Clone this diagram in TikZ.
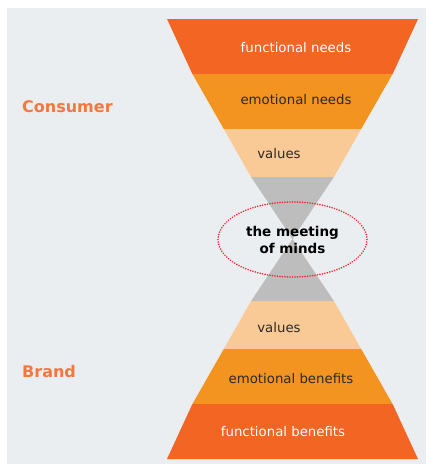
\documentclass[tikz,border=0pt]{standalone}
\usepackage{fontspec}
\setmainfont{DejaVu Sans}
\begin{document}
\begin{tikzpicture}[x=1pt,y=-1pt,
  bandtext/.style={font=\fontsize{13.3}{16}\selectfont, inner sep=0pt},
  sidelabel/.style={font=\bfseries\fontsize{16}{19}\selectfont, text=labelorange, anchor=west, inner sep=0pt}]
\definecolor{panel}{HTML}{EBEEF0}
\definecolor{darkorange}{HTML}{F26522}
\definecolor{midorange}{HTML}{F39420}
\definecolor{peach}{HTML}{F9C996}
\definecolor{coregray}{HTML}{BDBDBD}
\definecolor{labelorange}{HTML}{F47740}
\definecolor{textdark}{HTML}{2A2A2A}
\definecolor{dotred}{HTML}{EE2A32}
\useasboundingbox (0,0) rectangle (426,464);
\fill[white] (0,0) rectangle (426,464);
\fill[panel] (7,8) rectangle (426,464);
% funnel (top) and pyramid (bottom), apex at (292.5,239)
\coordinate (apex) at (292.5,239);
% top funnel bands
\fill[darkorange] (167,19) -- (418,19) -- (392.6,74) -- (192.4,74) -- cycle;
\fill[midorange] (192.4,74) -- (392.6,74) -- (361.2,129) -- (223.8,129) -- cycle;
\fill[peach] (223.8,129) -- (361.2,129) -- (333.9,177) -- (251.1,177) -- cycle;
\fill[coregray] (251.1,177) -- (333.9,177) -- (apex) -- cycle;
% bottom pyramid bands
\fill[coregray] (apex) -- (333.9,301) -- (251.1,301) -- cycle;
\fill[peach] (251.1,301) -- (333.9,301) -- (361.2,349) -- (223.8,349) -- cycle;
\fill[midorange] (223.8,349) -- (361.2,349) -- (392.6,404) -- (192.4,404) -- cycle;
\fill[darkorange] (192.4,404) -- (392.6,404) -- (418,459) -- (167,459) -- cycle;
% band labels
\node[bandtext, text=white] (fn) at (296,48) {functional needs};
\node[bandtext, text=textdark] (en) at (296,100) {emotional needs};
\node[bandtext, text=textdark] (vt) at (279,154) {values};
\node[bandtext, text=textdark] (vb) at (279,328) {values};
\node[bandtext, text=textdark] (eb) at (291,379) {emotional benefits};
\node[bandtext, text=white] (fb) at (283,432) {functional benefits};
% side labels
\node[sidelabel] (consumer) at (22,107) {Consumer};
\node[sidelabel] (brand) at (22,372) {Brand};
% the meeting of minds
\draw[dotred, line width=1.8pt, dash pattern=on 0.01pt off 2.5pt, line cap=round]
  (292.5,239.5) ellipse [x radius=74.5, y radius=37.5];
\node[font=\bfseries\fontsize{13.5}{17}\selectfont, align=center, text=black, inner sep=0pt] (mind) at (292.5,240) {the meeting\\of minds};
\end{tikzpicture}
\end{document}
